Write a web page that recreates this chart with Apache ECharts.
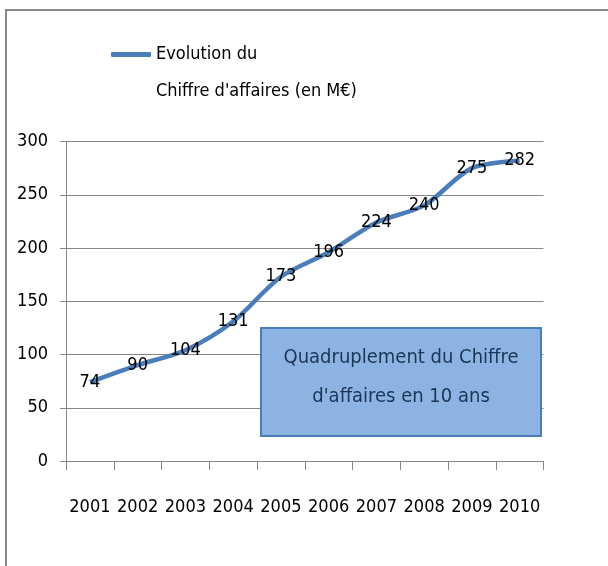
<!DOCTYPE html>
<html>
<head>
<meta charset="utf-8">
<script src="https://cdn.jsdelivr.net/npm/echarts@6/dist/echarts.min.js"></script>
<style>
html,body{margin:0;padding:0;background:#fff;}
#c{width:608px;height:566px;}
</style>
</head>
<body>
<div id="c"></div>
<script>
var years = ['2001','2002','2003','2004','2005','2006','2007','2008','2009','2010'];
var revenue = [74, 90, 104, 131, 173, 196, 224, 240, 275, 282];
var yTicks = {min: 0, max: 300, interval: 50};
var seriesName = 'Evolution du\nChiffre d\'affaires (en M€)';
var noteText = 'Quadruplement du Chiffre\nd\'affaires en 10 ans';

var FONT = "'DejaVu Sans Condensed', 'Liberation Sans', sans-serif";
var chart = echarts.init(document.getElementById('c'), null, {renderer: 'canvas'});
chart.setOption({
  backgroundColor: '#ffffff',
  animation: false,
  textStyle: {fontFamily: FONT},
  legend: {
    left: 111, top: -1, padding: 0,
    itemWidth: 40, itemHeight: 5, itemGap: 0,
    icon: 'roundRect',
    data: [seriesName],
    formatter: function (n) { return ' \n' + n; },
    textStyle: {fontFamily: FONT, fontSize: 18, color: '#000', lineHeight: 37}
  },
  grid: {left: 66, right: 64.5, top: 141.5, bottom: 105, containLabel: false},
  xAxis: {
    type: 'category', data: years, boundaryGap: true,
    axisLine: {lineStyle: {color: '#868686', width: 1}},
    axisTick: {show: true, length: 9, interval: 0, lineStyle: {color: '#868686'}},
    axisLabel: {fontFamily: FONT, fontSize: 18, color: '#000', margin: 37, interval: 0}
  },
  yAxis: {
    type: 'value', min: yTicks.min, max: yTicks.max, interval: yTicks.interval,
    axisLine: {show: true, lineStyle: {color: '#868686', width: 1}},
    axisTick: {show: true, length: 6, lineStyle: {color: '#868686'}},
    splitLine: {lineStyle: {color: '#868686', width: 1}},
    axisLabel: {fontFamily: FONT, fontSize: 18, color: '#000', margin: 18}
  },
  series: [{
    name: seriesName, type: 'line', data: revenue,
    smooth: 0.3, showSymbol: true, symbol: 'circle', symbolSize: 0,
    lineStyle: {color: '#4A7EBB', width: 4.5},
    itemStyle: {color: '#4A7EBB'},
    label: {show: true, position: 'inside', fontFamily: FONT, fontSize: 18, color: '#000'}
  }],
  graphic: [
    {type: 'rect', z: 100, shape: {x: 6, y: 10, width: 700, height: 700},
     style: {fill: 'none', stroke: '#878787', lineWidth: 2}},
    {type: 'rect', z: 100, shape: {x: 261, y: 328, width: 280, height: 108},
     style: {fill: '#8DB3E2', stroke: '#4A7EBB', lineWidth: 2}},
    {type: 'text', z: 101, x: 401, y: 377,
     style: {text: noteText, fontFamily: FONT, fontSize: 20, lineHeight: 39,
             fill: '#1B3558', align: 'center', verticalAlign: 'middle'}}
  ]
});
</script>
</body>
</html>
